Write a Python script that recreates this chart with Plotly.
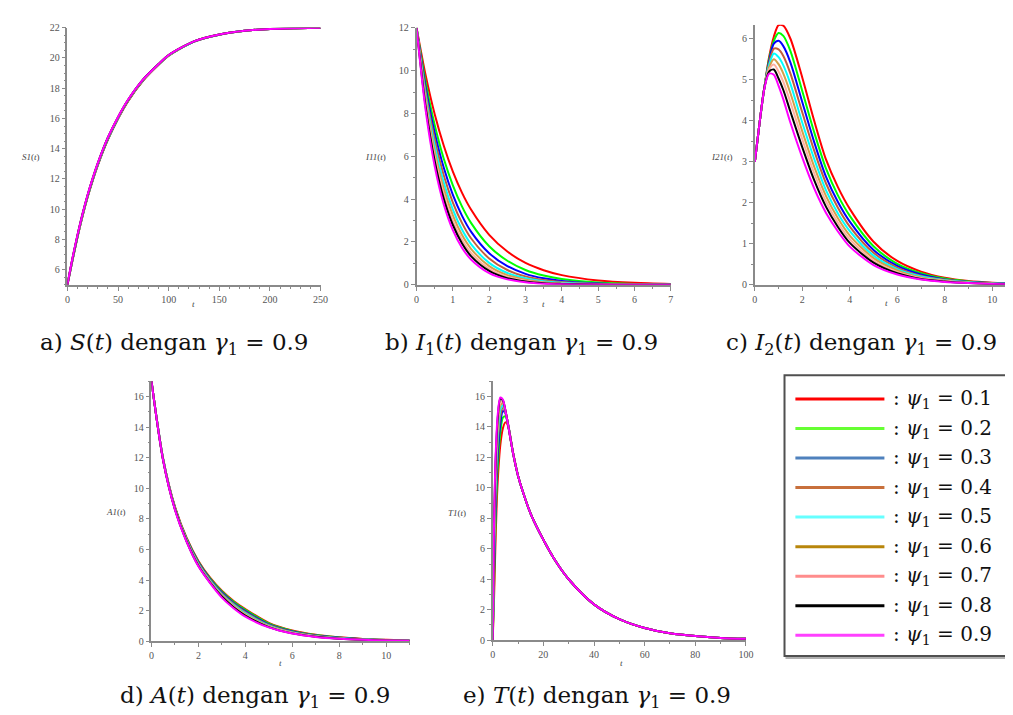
import plotly.graph_objects as go

W, H = 1013, 715

psi_labels = ["0.1", "0.2", "0.3", "0.4", "0.5", "0.6", "0.7", "0.8", "0.9"]
line_colors = ["#ff0000", "#00ff00", "#0000ff", "#c0603c", "#00ffff",
               "#d2a04a", "#ffb0a0", "#000000", "#ff00ff"]
legend_colors = ["#ff0000", "#66ff33", "#4f81bd", "#c8703c", "#66ffff",
                 "#b8860b", "#ff8c8c", "#000000", "#ff40ff"]

# ---------- a) S(t) ----------
S_t = [0, 5, 10, 15, 20, 25, 30, 40, 50, 60, 75, 90, 100, 125, 150, 175, 200, 225, 250]
S_vals = [
    [5, 6.60, 8.15, 9.55, 10.80, 11.90, 12.90, 14.60, 15.98, 17.15, 18.52, 19.55, 20.15, 21.08, 21.54, 21.8, 21.92, 21.97, 22.0],
    [5, 6.62, 8.17, 9.57, 10.82, 11.92, 12.92, 14.62, 16.00, 17.17, 18.54, 19.56, 20.16, 21.08, 21.54, 21.8, 21.92, 21.97, 22.0],
    [5, 6.64, 8.19, 9.60, 10.85, 11.95, 12.95, 14.65, 16.02, 17.19, 18.55, 19.57, 20.17, 21.09, 21.54, 21.8, 21.92, 21.97, 22.0],
    [5, 6.66, 8.21, 9.62, 10.87, 11.97, 12.97, 14.67, 16.04, 17.20, 18.56, 19.58, 20.18, 21.09, 21.55, 21.8, 21.92, 21.97, 22.0],
    [5, 6.68, 8.23, 9.64, 10.89, 11.99, 12.99, 14.69, 16.05, 17.21, 18.57, 19.58, 20.18, 21.09, 21.55, 21.8, 21.92, 21.97, 22.0],
    [5, 6.70, 8.25, 9.66, 10.91, 12.01, 13.01, 14.71, 16.07, 17.22, 18.58, 19.59, 20.19, 21.10, 21.55, 21.8, 21.92, 21.97, 22.0],
    [5, 6.72, 8.27, 9.67, 10.92, 12.02, 13.02, 14.72, 16.08, 17.23, 18.59, 19.59, 20.19, 21.10, 21.55, 21.8, 21.92, 21.97, 22.0],
    [5, 6.73, 8.28, 9.69, 10.94, 12.04, 13.04, 14.74, 16.09, 17.24, 18.60, 19.60, 20.20, 21.10, 21.55, 21.8, 21.92, 21.97, 22.0],
    [5, 6.75, 8.30, 9.70, 10.95, 12.05, 13.05, 14.75, 16.10, 17.25, 18.60, 19.60, 20.20, 21.10, 21.55, 21.8, 21.92, 21.97, 22.0],
]

# ---------- b) I1(t) ----------
I1_t = [0, 0.25, 0.5, 0.75, 1, 1.25, 1.5, 2, 2.5, 3, 3.5, 4, 5, 6, 7]
I1_vals = [
    [12, 9.78, 7.96, 6.49, 5.28, 4.30, 3.51, 2.33, 1.55, 1.02, 0.68, 0.45, 0.20, 0.09, 0.04],
    [12, 9.46, 7.46, 5.88, 4.64, 3.66, 2.89, 1.80, 1.12, 0.69, 0.43, 0.27, 0.10, 0.04, 0.02],
    [12, 9.23, 7.10, 5.46, 4.20, 3.23, 2.48, 1.47, 0.87, 0.51, 0.30, 0.18, 0.06, 0.02, 0.01],
    [12, 9.02, 6.79, 5.10, 3.84, 2.89, 2.17, 1.23, 0.69, 0.39, 0.22, 0.13, 0.04, 0.01, 0.0],
    [12, 8.82, 6.49, 4.77, 3.51, 2.58, 1.90, 1.02, 0.55, 0.30, 0.16, 0.09, 0.03, 0.01, 0.0],
    [12, 8.65, 6.23, 4.49, 3.24, 2.33, 1.68, 0.87, 0.45, 0.24, 0.12, 0.06, 0.02, 0.01, 0.0],
    [12, 8.48, 5.99, 4.23, 2.99, 2.11, 1.49, 0.74, 0.37, 0.19, 0.09, 0.05, 0.01, 0.0, 0.0],
    [12, 8.33, 5.78, 4.01, 2.79, 1.94, 1.34, 0.65, 0.31, 0.15, 0.07, 0.04, 0.01, 0.0, 0.0],
    [12, 8.15, 5.53, 3.75, 2.55, 1.73, 1.18, 0.54, 0.25, 0.12, 0.05, 0.02, 0.01, 0.0, 0.0],
]

# ---------- c) I2(t) ----------
I2_t = [0, 0.2, 0.4, 0.6, 0.8, 1.0, 1.2, 1.5, 2, 2.5, 3, 3.5, 4, 5, 6, 7, 8, 9, 10, 11]
I2_vals = [
    [3, 3.95, 4.80, 5.55, 6.05, 6.33, 6.32, 6.00, 5.05, 4.00, 3.05, 2.38, 1.85, 1.05, 0.58, 0.32, 0.17, 0.09, 0.05, 0.03],
    [3, 3.95, 4.80, 5.50, 5.95, 6.14, 6.07, 5.70, 4.72, 3.72, 2.83, 2.18, 1.68, 0.94, 0.51, 0.28, 0.15, 0.08, 0.04, 0.02],
    [3, 3.95, 4.80, 5.45, 5.88, 5.95, 5.82, 5.42, 4.45, 3.48, 2.63, 2.02, 1.54, 0.85, 0.46, 0.25, 0.13, 0.07, 0.04, 0.02],
    [3, 3.95, 4.80, 5.40, 5.76, 5.74, 5.58, 5.15, 4.20, 3.27, 2.47, 1.88, 1.42, 0.78, 0.42, 0.22, 0.12, 0.06, 0.03, 0.02],
    [3, 3.95, 4.80, 5.35, 5.64, 5.55, 5.35, 4.90, 3.95, 3.07, 2.30, 1.74, 1.31, 0.71, 0.38, 0.20, 0.11, 0.06, 0.03, 0.02],
    [3, 3.95, 4.80, 5.30, 5.50, 5.38, 5.15, 4.67, 3.74, 2.88, 2.16, 1.62, 1.20, 0.65, 0.35, 0.18, 0.10, 0.05, 0.03, 0.01],
    [3, 3.95, 4.80, 5.25, 5.37, 5.20, 4.95, 4.45, 3.55, 2.72, 2.03, 1.51, 1.11, 0.59, 0.31, 0.16, 0.09, 0.05, 0.02, 0.01],
    [3, 3.95, 4.80, 5.20, 5.25, 5.03, 4.75, 4.22, 3.35, 2.55, 1.90, 1.41, 1.02, 0.54, 0.28, 0.14, 0.08, 0.04, 0.02, 0.01],
    [3, 3.95, 4.78, 5.15, 5.12, 4.85, 4.52, 3.95, 3.10, 2.35, 1.75, 1.30, 0.93, 0.48, 0.25, 0.13, 0.07, 0.04, 0.02, 0.01],
]

# ---------- d) A(t) ----------
A_t = [0, 0.5, 1, 1.5, 2, 2.5, 3, 3.5, 4, 5, 6, 7, 8, 9, 10, 11]
A_vals = [
    [17, 11.90, 8.80, 6.75, 5.25, 4.15, 3.30, 2.63, 2.10, 1.20, 0.70, 0.42, 0.25, 0.15, 0.09, 0.05],
    [17, 11.90, 8.75, 6.70, 5.20, 4.10, 3.25, 2.58, 2.05, 1.16, 0.67, 0.40, 0.24, 0.14, 0.08, 0.05],
    [17, 11.90, 8.72, 6.65, 5.15, 4.05, 3.18, 2.50, 1.97, 1.10, 0.63, 0.37, 0.22, 0.13, 0.07, 0.04],
    [17, 11.85, 8.70, 6.62, 5.10, 4.00, 3.12, 2.44, 1.90, 1.06, 0.60, 0.35, 0.20, 0.12, 0.07, 0.04],
    [17, 11.85, 8.68, 6.60, 5.05, 3.95, 3.06, 2.38, 1.83, 1.02, 0.57, 0.33, 0.19, 0.11, 0.06, 0.04],
    [17, 11.85, 8.66, 6.57, 5.00, 3.90, 3.00, 2.32, 1.77, 0.98, 0.55, 0.31, 0.18, 0.10, 0.06, 0.03],
    [17, 11.82, 8.64, 6.55, 4.96, 3.86, 2.96, 2.27, 1.72, 0.95, 0.53, 0.30, 0.17, 0.10, 0.05, 0.03],
    [17, 11.80, 8.62, 6.52, 4.93, 3.83, 2.92, 2.22, 1.68, 0.92, 0.51, 0.29, 0.16, 0.09, 0.05, 0.03],
    [17, 11.80, 8.60, 6.50, 4.90, 3.80, 2.85, 2.15, 1.60, 0.90, 0.50, 0.28, 0.16, 0.09, 0.05, 0.03],
]

# ---------- e) T(t) ----------
T_t = [0, 0.5, 1, 1.5, 2, 3, 4, 5, 6, 8, 10, 12, 15, 20, 25, 30, 40, 50, 60, 70, 80, 90, 100]
T_vals = [
    [0, 2.6, 5.8, 8.6, 10.5, 12.8, 13.9, 14.3, 14.1, 12.35, 10.8, 9.7, 8.3, 6.6, 5.15, 4.0, 2.35, 1.38, 0.8, 0.46, 0.27, 0.15, 0.09],
    [0, 3.4, 6.9, 9.6, 11.4, 13.6, 14.6, 14.7, 14.2, 12.33, 10.8, 9.7, 8.3, 6.6, 5.15, 4.0, 2.35, 1.38, 0.8, 0.46, 0.27, 0.15, 0.09],
    [0, 4.2, 7.9, 10.5, 12.2, 14.2, 15.05, 14.9, 14.25, 12.32, 10.8, 9.7, 8.3, 6.6, 5.15, 4.0, 2.35, 1.38, 0.8, 0.46, 0.27, 0.15, 0.09],
    [0, 4.9, 8.7, 11.2, 12.9, 14.7, 15.25, 14.98, 14.25, 12.31, 10.8, 9.7, 8.3, 6.6, 5.15, 4.0, 2.35, 1.38, 0.8, 0.46, 0.27, 0.15, 0.09],
    [0, 5.5, 9.4, 11.8, 13.4, 15.1, 15.42, 15.02, 14.22, 12.3, 10.8, 9.7, 8.3, 6.6, 5.15, 4.0, 2.35, 1.38, 0.8, 0.46, 0.27, 0.15, 0.09],
    [0, 6.1, 10.0, 12.4, 13.9, 15.4, 15.55, 15.05, 14.2, 12.3, 10.8, 9.7, 8.3, 6.6, 5.15, 4.0, 2.35, 1.38, 0.8, 0.46, 0.27, 0.15, 0.09],
    [0, 6.6, 10.5, 12.8, 14.3, 15.6, 15.65, 15.08, 14.2, 12.3, 10.8, 9.7, 8.3, 6.6, 5.15, 4.0, 2.35, 1.38, 0.8, 0.46, 0.27, 0.15, 0.09],
    [0, 7.1, 11.0, 13.2, 14.6, 15.85, 15.75, 15.1, 14.2, 12.3, 10.8, 9.7, 8.3, 6.6, 5.15, 4.0, 2.35, 1.38, 0.8, 0.46, 0.27, 0.15, 0.09],
    [0, 7.5, 11.4, 13.5, 14.85, 15.93, 15.8, 15.1, 14.2, 12.3, 10.8, 9.7, 8.3, 6.6, 5.15, 4.0, 2.35, 1.38, 0.8, 0.46, 0.27, 0.15, 0.09],
]

y_labels = ["<i>S1</i>(<i>t</i>)", "<i>I11</i>(<i>t</i>)", "<i>I21</i>(<i>t</i>)",
            "<i>A1</i>(<i>t</i>)", "<i>T1</i>(<i>t</i>)"]
captions = [
    "a) <i>S</i>(<i>t</i>) dengan <i>γ</i><sub>1</sub> = 0.9",
    "b) <i>I</i><sub>1</sub>(<i>t</i>) dengan <i>γ</i><sub>1</sub> = 0.9",
    "c) <i>I</i><sub>2</sub>(<i>t</i>) dengan <i>γ</i><sub>1</sub> = 0.9",
    "d) <i>A</i>(<i>t</i>) dengan <i>γ</i><sub>1</sub> = 0.9",
    "e) <i>T</i>(<i>t</i>) dengan <i>γ</i><sub>1</sub> = 0.9",
]


def px(x):
    return x / W


def py(y):
    return 1 - y / H


# panel geometry in pixels: (left, right, top, bottom)
panels = [
    dict(t=S_t, v=S_vals, box=(57, 313, 15, 276), xr=[0, 250], yr=[5, 22],
         xd=50, xm=10, yd=2, ym=0.5, ylab=(20, 146), xlab=(185, 296), cap=(165, 336)),
    dict(t=I1_t, v=I1_vals, box=(410, 667, 15, 276), xr=[0, 7], yr=[0, 12],
         xd=1, xm=0.5, yd=2, ym=1, ylab=(369, 146), xlab=(538, 296), cap=(516, 336)),
    dict(t=I2_t, v=I2_vals, box=(752, 1013, 12, 276), xr=[0, 10.875], yr=[0, 6.34],
         xd=2, xm=1, yd=1, ym=0.5, ylab=(719, 146), xlab=(885, 295), cap=(860, 336)),
    dict(t=A_t, v=A_vals, box=(142, 403, 374, 638), xr=[0, 11], yr=[0, 17],
         xd=2, xm=1, yd=2, ym=1, ylab=(106, 507), xlab=(272, 660), cap=(247, 695)),
    dict(t=T_t, v=T_vals, box=(487, 743, 374, 637), xr=[0, 100], yr=[0, 17],
         xd=20, xm=10, yd=2, ym=1, ylab=(451, 508), xlab=(617, 660), cap=(592, 695)),
]

fig = go.Figure()
layout = dict(
    width=W, height=H, paper_bgcolor="white", plot_bgcolor="white",
    margin=dict(l=0, r=0, t=0, b=0), showlegend=False,
)
annotations = []
shapes = []

axis_common = dict(
    showgrid=False, zeroline=False, showline=True, linecolor="#8a8a8a", linewidth=1.5,
    ticks="outside", ticklen=4, tickcolor="#8a8a8a", tickwidth=1,
    tickfont=dict(family="Liberation Serif", size=10, color="#555555"),
    fixedrange=True,
)

for i, p in enumerate(panels):
    n = i + 1
    sfx = "" if n == 1 else str(n)
    l, r, t, b = p["box"]
    layout["xaxis" + sfx] = dict(axis_common, domain=[px(l), px(r)], range=p["xr"],
                                 anchor="y" + sfx, dtick=p["xd"], tick0=0,
                                 minor=dict(dtick=p["xm"], ticks="outside", ticklen=2,
                                            tickcolor="#8a8a8a", showgrid=False))
    layout["yaxis" + sfx] = dict(axis_common, domain=[py(b), py(t)], range=p["yr"],
                                 anchor="x" + sfx, dtick=p["yd"], tick0=0,
                                 minor=dict(dtick=p["ym"], ticks="outside", ticklen=2,
                                            tickcolor="#8a8a8a", showgrid=False))
    for k in range(9):
        fig.add_trace(go.Scatter(
            x=p["t"], y=p["v"][k], mode="lines",
            line=dict(color=line_colors[k], width=2, shape="spline", smoothing=0.8),
            xaxis="x" + sfx, yaxis="y" + sfx,
            name=f"ψ1 = {psi_labels[k]}",
        ))
    annotations.append(dict(text=y_labels[i], x=px(p["ylab"][0]), y=py(p["ylab"][1]),
                            xref="paper", yref="paper", showarrow=False,
                            xanchor="center", yanchor="middle",
                            font=dict(family="Liberation Serif", size=9, color="#444444")))
    annotations.append(dict(text="<i>t</i>", x=px(p["xlab"][0]), y=py(p["xlab"][1]),
                            xref="paper", yref="paper", showarrow=False,
                            xanchor="center", yanchor="middle",
                            font=dict(family="Liberation Serif", size=9, color="#444444")))
    annotations.append(dict(text=captions[i], x=px(p["cap"][0]), y=py(p["cap"][1]),
                            xref="paper", yref="paper", showarrow=False,
                            xanchor="center", yanchor="middle",
                            font=dict(family="DejaVu Serif", size=23, color="#111111")))

# custom legend box
shapes.append(dict(type="rect", xref="paper", yref="paper",
                   x0=px(784), x1=px(1009), y0=py(655), y1=py(370),
                   line=dict(color="#b0b0b0", width=2), fillcolor="rgba(0,0,0,0)"))
shapes.append(dict(type="rect", xref="paper", yref="paper",
                   x0=px(782), x1=px(1007), y0=py(653), y1=py(368),
                   line=dict(color="#505050", width=2), fillcolor="white"))
for k in range(9):
    yy = 392 + k * 30
    shapes.append(dict(type="line", xref="paper", yref="paper",
                       x0=px(793), x1=px(883), y0=py(yy), y1=py(yy),
                       line=dict(color=legend_colors[k], width=3)))
    annotations.append(dict(text=f": <i>ψ</i><sub>1</sub> = {psi_labels[k]}",
                            x=px(890), y=py(yy), xref="paper", yref="paper",
                            xanchor="left", yanchor="middle", showarrow=False,
                            font=dict(family="DejaVu Serif", size=20, color="#111111")))

layout["annotations"] = annotations
layout["shapes"] = shapes
fig.update_layout(**layout)
fig.write_html("out.html", config={"displayModeBar": False})
